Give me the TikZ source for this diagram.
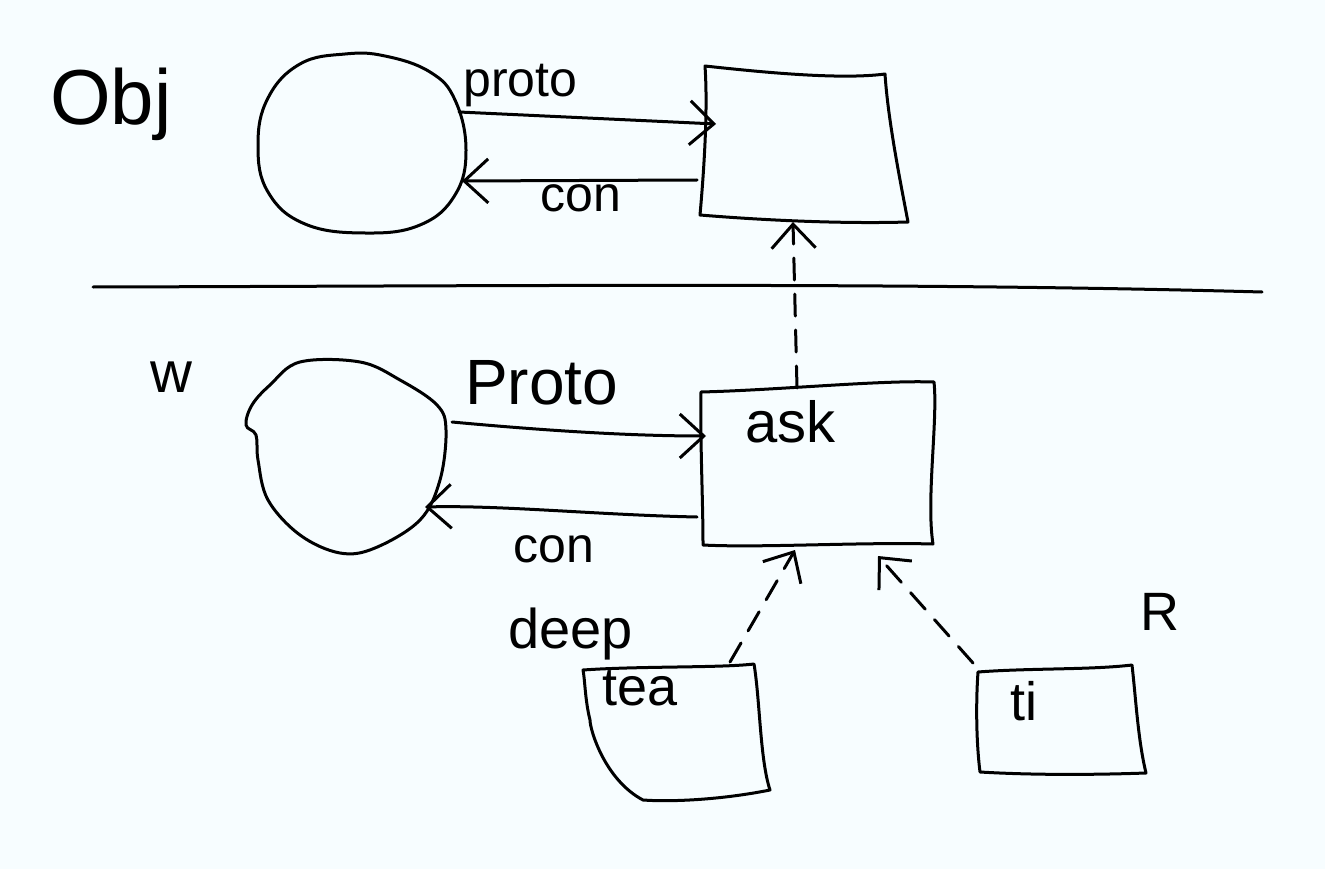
\documentclass[tikz,border=0pt]{standalone}
\usepackage{fontspec}
\setmainfont{Liberation Sans}
\usetikzlibrary{arrows.meta}
\tikzset{
  pen/.style={line width=3pt, line cap=round, line join=round, black},
  hand/.style={pen, -{Straight Barb[length=24pt,width=44pt,line width=3pt]}},
  dashhand/.style={hand, dash pattern=on 22pt off 14pt},
  lbl/.style={inner sep=0pt, anchor=base west},
  anc/.style={inner sep=0pt, minimum size=0pt},
}
\begin{document}
\begin{tikzpicture}[x=1pt,y=-1pt]
\useasboundingbox[fill=white] (0,0) rectangle (1325,869);
\fill[white!97!cyan] (0,0) rectangle (1325,869);

% ---- top part ----
\node[lbl, font=\fontsize{78}{80}\selectfont] (objlbl) at (50,125) {Obj};

% top blob
\draw[pen] plot[smooth cycle, tension=0.7] coordinates {
  (385,56) (430,72) (455,100) (466,150) (455,195) (420,225) (365,233)
  (305,224) (268,192) (258,145) (268,98) (300,64) (345,54)};
\node[anc] (objL) at (362,144) {};
\coordinate (objR1) at (459,112);
\coordinate (objR2) at (462,181);

% top box
\draw[pen] (705,66) .. controls (760,72) and (840,80) .. (885,74)
  .. controls (888,120) and (900,180) .. (908,222)
  .. controls (840,224) and (760,220) .. (700,215)
  .. controls (704,170) and (708,110) .. (705,66) -- cycle;
\node[anc] (objbox) at (805,145) {};
\coordinate (boxL1) at (716,124);
\coordinate (boxL2) at (697,180);
\coordinate (boxB) at (793,222);

\draw[hand] (objR1) -- (boxL1);
\draw[hand] (boxL2) -- (objR2);
\node[lbl, font=\fontsize{50}{52}\selectfont] (proto1) at (463,97) {proto};
\node[lbl, font=\fontsize{50}{52}\selectfont] (con1) at (540,212) {con};

% separator
\coordinate (sepL) at (93,287);
\coordinate (sepR) at (1262,292);
\draw[pen] (sepL) .. controls (500,286) and (900,282) .. (sepR);

% ---- bottom part ----
\node[lbl, font=\fontsize{58}{60}\selectfont] (wlbl) at (150,392) {w};

% bottom blob
\draw[pen] plot[smooth cycle, tension=0.6] coordinates {
  (300,362) (360,362) (400,380) (437,405) (446,430) (440,480) (420,520)
  (375,548) (340,553) (300,535) (268,500) (258,460) (256,435) (246,425)
  (252,405) (270,385)};
\node[anc] (wobj) at (345,455) {};
\coordinate (wR1) at (452,422);
\coordinate (wR2) at (425,507);

% ask box
\draw[pen] (701,392) .. controls (780,390) and (880,380) .. (934,382)
  .. controls (938,420) and (926,500) .. (933,544)
  .. controls (860,542) and (760,548) .. (703,545)
  .. controls (703,500) and (700,440) .. (701,392) -- cycle;
\node[lbl, font=\fontsize{58}{60}\selectfont] (ask) at (745,442) {ask};
\coordinate (askL1) at (706,436);
\coordinate (askL2) at (697,517);
\coordinate (askT) at (797,388);
\coordinate (askB1) at (795,550);
\coordinate (askB2) at (878,556);

\draw[hand] (wR1) .. controls (560,432) and (640,436) .. (askL1);
\draw[hand] (askL2) .. controls (600,515) and (500,505) .. (wR2);
\node[lbl, font=\fontsize{64}{66}\selectfont] (proto2) at (465,404) {Proto};
\node[lbl, font=\fontsize{50}{52}\selectfont] (con2) at (513,562) {con};

\draw[dashhand] (askT) -- (boxB);

% tea box
\draw[pen] (583,670) .. controls (640,666) and (720,668) .. (754,664)
  .. controls (760,700) and (760,760) .. (770,790)
  .. controls (720,800) and (670,802) .. (643,800)
  .. controls (605,780) and (590,730) .. (590,720)
  .. controls (585,700) and (585,680) .. (583,670) -- cycle;
\node[lbl, font=\fontsize{54}{56}\selectfont] (tea) at (602,705) {tea};
\node[lbl, font=\fontsize{56}{58}\selectfont] (deep) at (508,648) {deep};
\coordinate (teaT) at (730,662);

% ti box
\draw[pen] (978,672) .. controls (1030,668) and (1090,670) .. (1132,665)
  .. controls (1136,700) and (1138,740) .. (1146,773)
  .. controls (1090,775) and (1030,775) .. (980,772)
  .. controls (976,740) and (976,700) .. (978,672) -- cycle;
\node[lbl, font=\fontsize{54}{56}\selectfont] (ti) at (1010,720) {ti};
\node[lbl, font=\fontsize{54}{56}\selectfont] (rlbl) at (1140,630) {R};
\coordinate (tiT) at (973,663);

\draw[dashhand] (teaT) -- (askB1);
\draw[dashhand] (tiT) -- (askB2);
\end{tikzpicture}
\end{document}
